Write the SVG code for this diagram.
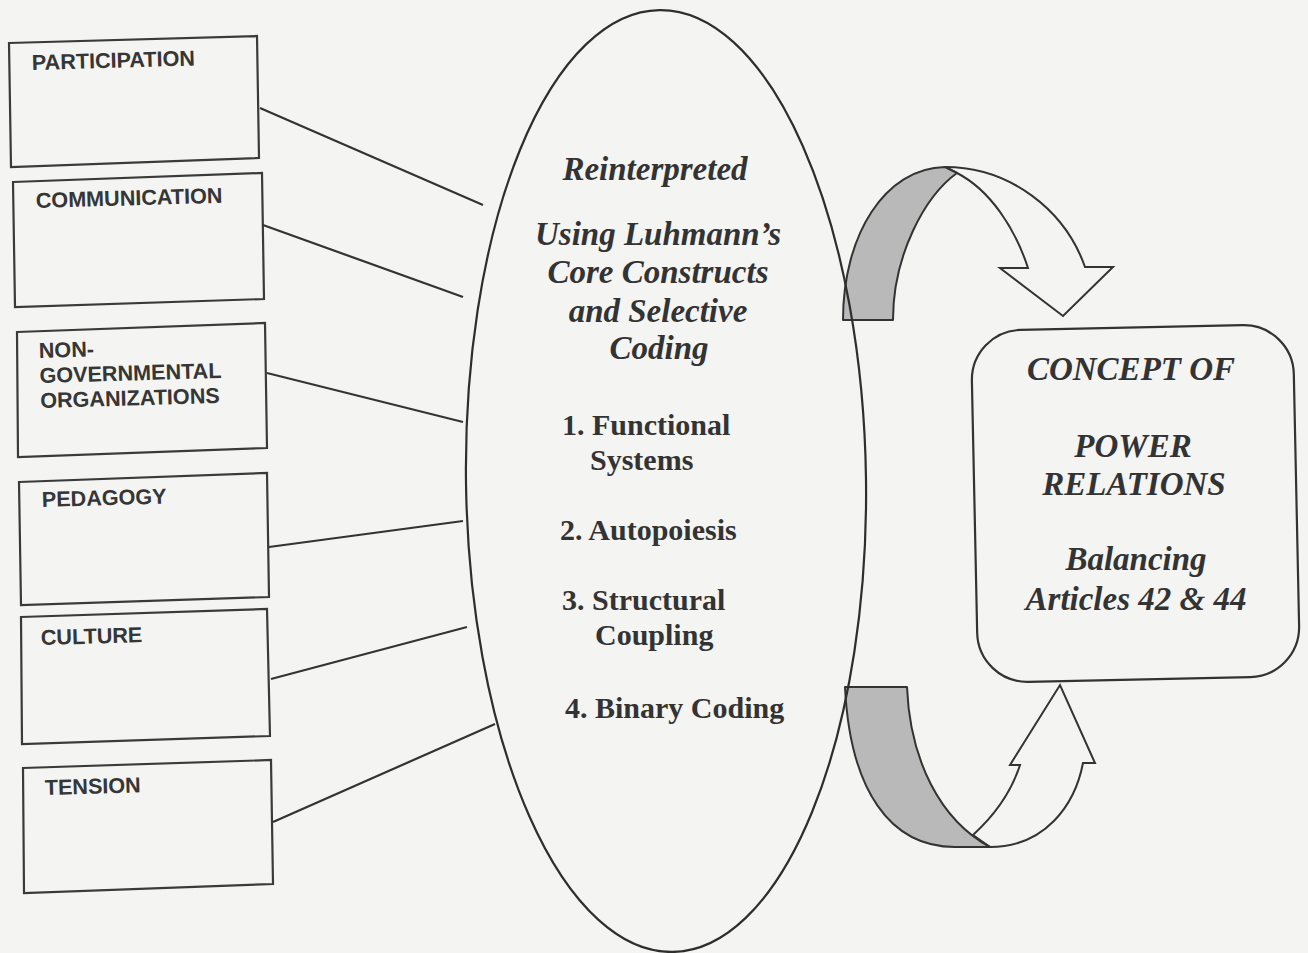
<svg xmlns="http://www.w3.org/2000/svg" width="1308" height="953" viewBox="0 0 1308 953">
<style>
.bg{fill:#f4f4f2}
.box{fill:none;stroke:#3a3a3a;stroke-width:2.2;stroke-linejoin:miter}
.lbl{font-family:"Liberation Sans",Arial,sans-serif;font-weight:bold;font-size:21.6px;fill:#363636}
.conn line{stroke:#333;stroke-width:2.2}
.oval{fill:none;stroke:#2e2e2e;stroke-width:2.2}
.bi{font-family:"Liberation Serif","Times New Roman",serif;font-weight:bold;font-style:italic;font-size:33px;fill:#333;text-anchor:middle}
.b{font-family:"Liberation Serif","Times New Roman",serif;font-weight:bold;font-size:30px;fill:#333}
.shade{fill:#b9b9b9;stroke:#333;stroke-width:2;stroke-linejoin:round}
.wht{fill:#f4f4f2;stroke:#333;stroke-width:2;stroke-linejoin:miter}
.rbox{fill:#f4f4f2;stroke:#333;stroke-width:2.2}
</style>
<rect class="bg" x="0" y="0" width="1308" height="953"/>

<g id="node-participation">
<polygon class="box" points="9,43 257,36 259,158 11,167"/>
<text class="lbl" x="32" y="70" transform="rotate(-1.6 32 70)">PARTICIPATION</text>
</g>
<g id="node-communication">
<polygon class="box" points="13,182 262,173 264,299 15,307"/>
<text class="lbl" x="36" y="208" transform="rotate(-1.6 36 208)">COMMUNICATION</text>
</g>
<g id="node-ngo">
<polygon class="box" points="17,332 265,323 267,448 18,457"/>
<text class="lbl" transform="rotate(-1.6 39 358)"><tspan x="39" y="358">NON-</tspan><tspan x="39" y="383">GOVERNMENTAL</tspan><tspan x="39" y="408">ORGANIZATIONS</tspan></text>
</g>
<g id="node-pedagogy">
<polygon class="box" points="19,482 267,473 269,597 21,605"/>
<text class="lbl" x="42" y="507" transform="rotate(-1.6 42 507)">PEDAGOGY</text>
</g>
<g id="node-culture">
<polygon class="box" points="21,617 267,609 270,736 22,744"/>
<text class="lbl" x="41" y="645" transform="rotate(-1.6 41 645)">CULTURE</text>
</g>
<g id="node-tension">
<polygon class="box" points="23,768 271,760 273,884 24,893"/>
<text class="lbl" x="45" y="795" transform="rotate(-1.6 45 795)">TENSION</text>
</g>

<g id="connectors" class="conn">
<line x1="260" y1="108" x2="483" y2="205"/>
<line x1="263" y1="225" x2="463" y2="297"/>
<line x1="267" y1="373" x2="463" y2="422"/>
<line x1="269" y1="547" x2="463" y2="521"/>
<line x1="271" y1="679" x2="467" y2="627"/>
<line x1="273" y1="822" x2="495" y2="724"/>
</g>

<g id="arrow-top">
<path class="wht" d="M945,167 C1010,167 1065,210 1085,267 L1113,267 L1063,316 L1000,268 L1028,268 C1015,228 990,190 957,173 Z"/>
<path class="shade" d="M843,320 C843,235 885,168 945,167 L957,173 C925,196 893,255 893,320 Z"/>
</g>
<g id="arrow-bottom">
<path class="wht" d="M973,835 C995,815 1012,790 1020,765 L1010,765 L1060,685 L1095,763 L1083,763 C1075,805 1045,847 990,847 Z"/>
<path class="shade" d="M845,687 L907,687 C910,760 940,820 990,847 L955,847 C890,847 850,790 845,687 Z"/>
</g>

<g id="node-luhmann">
<ellipse class="oval" cx="666" cy="481" rx="200" ry="471" transform="rotate(-0.8 666 481)"/>
<text class="bi" x="655" y="180">Reinterpreted</text>
<text class="bi" x="658" y="245">Using Luhmann’s</text>
<text class="bi" x="658" y="283">Core Constructs</text>
<text class="bi" x="658" y="322">and Selective</text>
<text class="bi" x="659" y="359">Coding</text>
<text class="b" x="562" y="435">1. Functional</text>
<text class="b" x="590" y="470">Systems</text>
<text class="b" x="560" y="540">2. Autopoiesis</text>
<text class="b" x="562" y="610">3. Structural</text>
<text class="b" x="595" y="645">Coupling</text>
<text class="b" x="565" y="718">4. Binary Coding</text>
</g>

<g id="node-power">
<rect class="rbox" x="974.5" y="327.5" width="322" height="352" rx="50" ry="50" transform="rotate(-1.2 1135.5 503.5)"/>
<text class="bi" x="1131" y="380">CONCEPT OF</text>
<text class="bi" x="1133" y="457">POWER</text>
<text class="bi" x="1134" y="495">RELATIONS</text>
<text class="bi" x="1136" y="570">Balancing</text>
<text class="bi" x="1136" y="610">Articles 42 &amp; 44</text>
</g>
</svg>
